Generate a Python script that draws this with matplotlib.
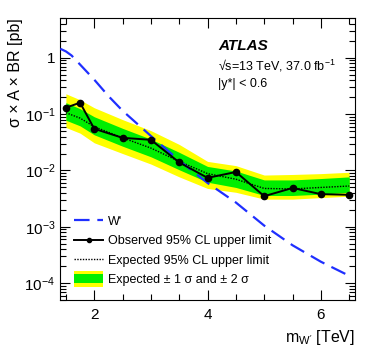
import matplotlib
matplotlib.use("Agg")
import matplotlib.pyplot as plt
from matplotlib.ticker import MultipleLocator, LogLocator, NullFormatter, FixedLocator
from matplotlib.patches import Rectangle
from matplotlib.legend_handler import HandlerBase
import numpy as np

plt.rcParams['font.family'] = ['Liberation Sans', 'DejaVu Sans']
plt.rcParams['mathtext.fontset'] = 'custom'
plt.rcParams['mathtext.rm'] = 'Liberation Sans'
plt.rcParams['mathtext.it'] = 'Liberation Sans:italic'

# ---- data ----
mass = [1.5, 1.75, 2.0, 2.5, 3.0, 3.5, 4.0, 4.5, 5.0, 5.5, 6.0, 6.5]
observed = [0.13, 0.16, 0.055, 0.038, 0.035, 0.0139, 0.0074, 0.0094, 0.0035, 0.0049, 0.0038, 0.0037]
expected = [0.106, 0.085, 0.06, 0.038, 0.025, 0.0145, 0.0088, 0.007, 0.0048, 0.0047, 0.005, 0.0053]
exp_1s_up = [0.16, 0.125, 0.09, 0.056, 0.036, 0.021, 0.0118, 0.0098, 0.0068, 0.0068, 0.0072, 0.0077]
exp_1s_dn = [0.078, 0.062, 0.043, 0.027, 0.0175, 0.0103, 0.0062, 0.005, 0.0036, 0.0036, 0.0038, 0.0041]
exp_2s_up = [0.23, 0.18, 0.13, 0.08, 0.051, 0.029, 0.0145, 0.0122, 0.0083, 0.0085, 0.0088, 0.0093]
exp_2s_dn = [0.058, 0.046, 0.031, 0.020, 0.013, 0.0077, 0.0048, 0.0041, 0.0031, 0.0031, 0.0033, 0.0035]

wprime_mass = [1.4, 1.5, 1.6, 1.75, 2.0, 2.25, 2.5, 3.0, 3.5, 4.0, 4.5, 5.0, 5.5, 6.0, 6.5]
wprime_xsec = [1.45, 1.3, 1.1, 0.76, 0.41, 0.21, 0.115, 0.041, 0.015, 0.006, 0.0027, 0.00105, 0.00047, 0.00024, 0.000135]

fig = plt.figure(figsize=(3.74, 3.59), dpi=100)
ax = fig.add_axes([0.161, 0.164, 0.788, 0.786])

ax.fill_between(mass, exp_2s_dn, exp_2s_up, color='#ffff00', lw=0, zorder=1)
ax.fill_between(mass, exp_1s_dn, exp_1s_up, color='#00ee00', lw=0, zorder=2)
ax.plot(mass, expected, color='black', lw=1.0, ls=(0, (1, 1)), zorder=3)
ax.plot(wprime_mass, wprime_xsec, color='#1f2fff', lw=1.6, ls=(0, (7, 3.5)), zorder=4)
ax.plot(mass, observed, color='black', lw=1.4, marker='o', ms=4.5, zorder=5)

ax.set_yscale('log')
ax.set_xlim(1.4, 6.6)
ax.set_ylim(5e-5, 5.1)

ax.xaxis.set_major_locator(FixedLocator([2, 4, 6]))
ax.xaxis.set_minor_locator(MultipleLocator(0.5))
ax.yaxis.set_major_locator(FixedLocator([1e-4, 1e-3, 1e-2, 1e-1, 1]))
ax.yaxis.set_minor_locator(LogLocator(base=10, subs=np.arange(2, 10)))
ax.yaxis.set_minor_formatter(NullFormatter())
ax.set_yticklabels(['$10^{-4}$', '$10^{-3}$', '$10^{-2}$', '$10^{-1}$', '1'])

ax.tick_params(which='both', direction='in', top=True, right=True, labelsize=11)
ax.tick_params(which='major', length=7, width=0.8)
ax.tick_params(which='minor', length=4, width=0.8)
ax.tick_params(axis='x', which='major', pad=6)

ax.set_xlabel("m$_{\\mathrm{W'}}$ [TeV]", fontsize=11.5, loc='right')
ax.set_ylabel("σ × A × BR [pb]", fontsize=11.5, loc='top', labelpad=1)

ax.text(0.535, 0.90, 'ATLAS', transform=ax.transAxes, fontsize=11,
        fontweight='bold', fontstyle='italic', va='center')
ax.text(0.535, 0.83, '√s=13 TeV, 37.0 fb$^{-1}$', transform=ax.transAxes,
        fontsize=9, va='center')
ax.text(0.535, 0.765, '|y*| < 0.6', transform=ax.transAxes, fontsize=9, va='center')


class BandHandler(HandlerBase):
    def create_artists(self, legend, orig_handle, xdescent, ydescent, width, height, fontsize, trans):
        y1 = Rectangle((-xdescent, -ydescent - height * 0.4), width, height * 1.8,
                       facecolor='#ffff00', edgecolor='none', transform=trans)
        g1 = Rectangle((-xdescent, -ydescent), width, height,
                       facecolor='#00ee00', edgecolor='none', transform=trans)
        return [y1, g1]


wl, = ax.plot([], [], color='#1f2fff', lw=1.6, ls=(0, (7, 3.5)))
ol, = ax.plot([], [], color='black', lw=1.4, marker='o', ms=3)
el, = ax.plot([], [], color='black', lw=1.0, ls=(0, (1, 1)))
band = Rectangle((0, 0), 1, 1)
leg = ax.legend([wl, ol, el, band],
                ["W'", 'Observed 95% CL upper limit', 'Expected 95% CL upper limit',
                 'Expected ± 1 σ and ± 2 σ'],
                handler_map={Rectangle: BandHandler()},
                loc='lower left', bbox_to_anchor=(0.01, 0.01), frameon=False,
                fontsize=9, handlelength=2.3, handletextpad=0.35, labelspacing=0.6)

fig.savefig('out.png', dpi=100)
